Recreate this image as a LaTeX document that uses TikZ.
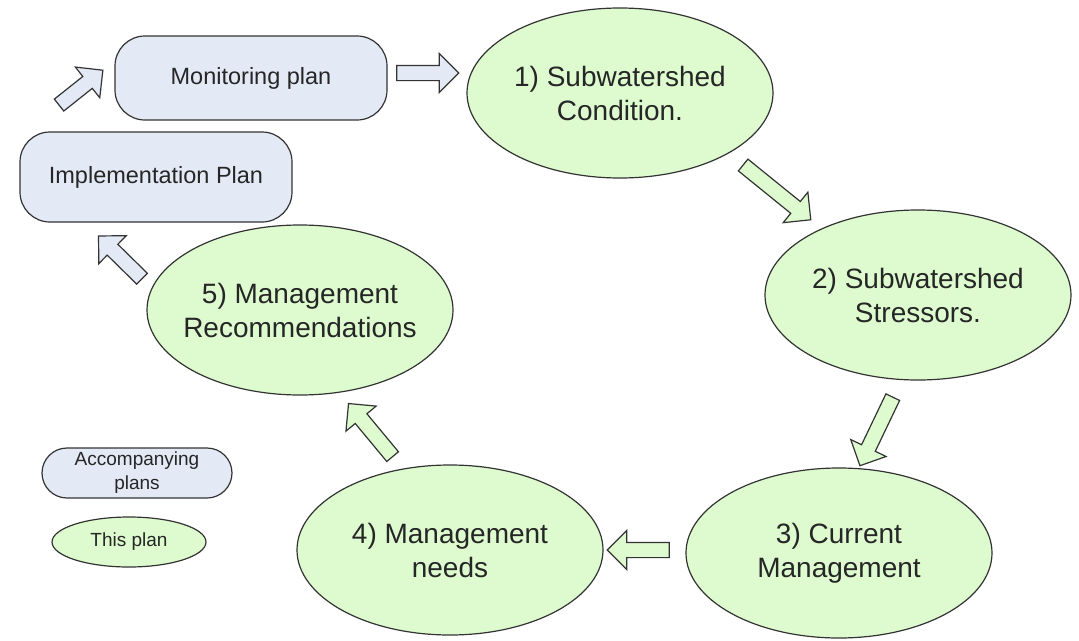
\documentclass[tikz,border=0pt]{standalone}
\usepackage{fontspec}
\setmainfont{Liberation Sans}
\usetikzlibrary{shapes.geometric,shapes.arrows}
\definecolor{planblue}{HTML}{E3EAF6}
\definecolor{plangreen}{HTML}{DDFBCF}
\definecolor{edgegray}{HTML}{333333}
\tikzset{
  planbox/.style = {draw=edgegray, line width=1.2pt, fill=planblue, rounded corners=30pt,
    minimum width=272pt, inner sep=0pt, align=center, text=black!85,
    font=\fontsize{23.5}{28}\selectfont},
  stage/.style = {ellipse, draw=edgegray, line width=1.2pt, fill=plangreen,
    minimum width=306pt, minimum height=170pt, inner xsep=-40pt, inner ysep=0pt,
    align=center, text=black!85, font=\fontsize{28}{34}\selectfont},
  flow/.style = {single arrow, draw=edgegray, line width=1.2pt, inner xsep=0pt, inner ysep=7pt,
    single arrow head extend=12pt, single arrow head indent=0pt, minimum width=38pt},
  keytext/.style = {align=center, text=black!85, font=\fontsize{19}{24}\selectfont}
}

\begin{document}
\begin{tikzpicture}[x=1pt,y=-1pt]
  \useasboundingbox (0,0) rectangle (1079,640);
  % accompanying plans
  \node[planbox, minimum height=84pt] (mon) at (251,78) {Monitoring plan};
  \node[planbox, minimum height=90pt] (impl) at (156,177) {Implementation Plan};
  % this plan
  \node[stage] (cond) at (620,93) {1) Subwatershed\\Condition.};
  \node[stage] (stress) at (918,295) {2) Subwatershed\\Stressors.};
  \node[stage] (curr) at (839,553) {3) Current\\Management};
  \node[stage] (needs) at (450,550) {4) Management\\needs};
  \node[stage] (recom) at (300,310) {5) Management\\Recommendations};
  % block arrows
  \node[flow, fill=planblue, minimum height=62pt] (monflow) at (424,73) {};
  \node[flow, fill=planblue, rotate=38.5, minimum height=56pt] (implflow) at (78,90) {};
  \node[flow, fill=planblue, rotate=135.5, minimum height=61pt] (recomflow) at (123,260) {};
  \node[flow, fill=plangreen, rotate=-39, minimum height=87pt] (condflow) at (774,190) {};
  \node[flow, fill=plangreen, rotate=-115.6, minimum height=76pt] (stressflow) at (878,428) {};
  \node[flow, fill=plangreen, rotate=180, minimum height=62pt] (currflow) at (642,550) {};
  \node[flow, fill=plangreen, rotate=129.7, minimum height=69pt] (needsflow) at (373,433) {};
  % legend
  \node[planbox, keytext, rounded corners=25pt, minimum width=190pt, minimum height=50pt]
    (keyblue) at (137,473) {Accompanying\\plans};
  \node[ellipse, draw=edgegray, line width=1.2pt, fill=plangreen, keytext, inner sep=0pt,
    minimum width=154pt, minimum height=50pt] (keygreen) at (129,542) {This plan};
\end{tikzpicture}
\end{document}
